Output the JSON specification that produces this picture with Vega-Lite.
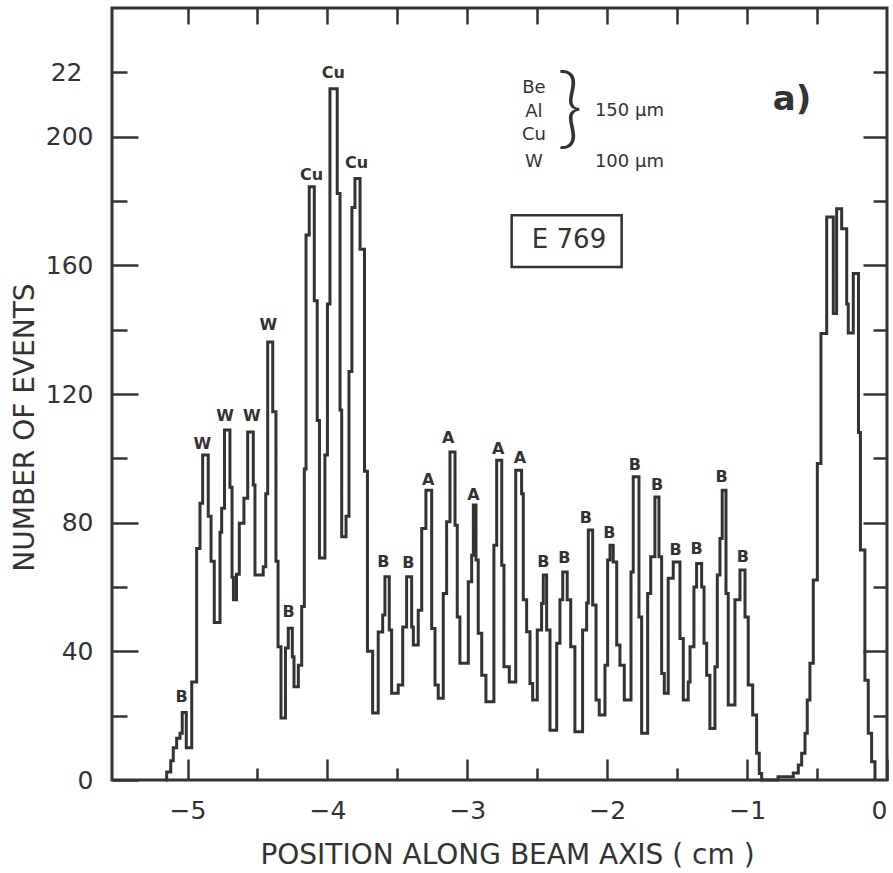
{
  "$schema": "https://vega.github.io/schema/vega-lite/v6.json",
  "width": 775,
  "height": 772,
  "autosize": "none",
  "padding": {"left": 112, "top": 8, "right": 6, "bottom": 93},
  "background": "white",
  "config": {
    "view": {"stroke": "#333", "strokeWidth": 3},
    "axis": {"domain": false, "grid": false, "tickColor": "#333", "tickWidth": 2.5, "labelFont": "DejaVu Sans", "labelFontSize": 25, "labelColor": "#333", "titleFont": "DejaVu Sans", "titleFontSize": 28, "titleFontWeight": "normal", "titleColor": "#333"},
    "text": {"font": "DejaVu Sans", "color": "#333"}
  },
  "datasets": {
    "hist": [
      {"x": -5.160, "y": 0}, {"x": -5.149, "y": 2.5}, {"x": -5.120, "y": 6}, {"x": -5.102, "y": 10}, {"x": -5.078, "y": 13}, {"x": -5.054, "y": 14.5}, {"x": -5.038, "y": 21}, {"x": -5.009, "y": 10}, {"x": -4.970, "y": 30.5}, {"x": -4.935, "y": 72}, {"x": -4.911, "y": 86}, {"x": -4.892, "y": 101}, {"x": -4.852, "y": 82}, {"x": -4.832, "y": 68}, {"x": -4.809, "y": 49}, {"x": -4.768, "y": 77}, {"x": -4.756, "y": 84.5}, {"x": -4.736, "y": 108.8}, {"x": -4.697, "y": 91}, {"x": -4.682, "y": 63}, {"x": -4.672, "y": 56}, {"x": -4.650, "y": 64}, {"x": -4.630, "y": 79.8}, {"x": -4.597, "y": 87.6}, {"x": -4.570, "y": 108.2}, {"x": -4.530, "y": 91.7}, {"x": -4.518, "y": 63.7}, {"x": -4.459, "y": 66.3}, {"x": -4.441, "y": 89}, {"x": -4.427, "y": 136.2}, {"x": -4.391, "y": 114.5}, {"x": -4.368, "y": 68}, {"x": -4.353, "y": 41.4}, {"x": -4.332, "y": 19.3}, {"x": -4.300, "y": 41}, {"x": -4.280, "y": 47.2}, {"x": -4.251, "y": 38.3}, {"x": -4.239, "y": 29}, {"x": -4.208, "y": 35.7}, {"x": -4.184, "y": 53.9}, {"x": -4.165, "y": 96.7}, {"x": -4.153, "y": 169.4}, {"x": -4.130, "y": 184.4}, {"x": -4.094, "y": 149}, {"x": -4.073, "y": 111.8}, {"x": -4.057, "y": 69}, {"x": -4.018, "y": 101}, {"x": -4.000, "y": 148}, {"x": -3.982, "y": 214.9}, {"x": -3.930, "y": 182.3}, {"x": -3.910, "y": 115}, {"x": -3.898, "y": 75.6}, {"x": -3.867, "y": 82}, {"x": -3.846, "y": 127}, {"x": -3.825, "y": 178}, {"x": -3.803, "y": 187}, {"x": -3.767, "y": 165}, {"x": -3.735, "y": 96}, {"x": -3.714, "y": 40}, {"x": -3.677, "y": 20.8}, {"x": -3.637, "y": 46}, {"x": -3.605, "y": 51.3}, {"x": -3.589, "y": 63.2}, {"x": -3.558, "y": 46.6}, {"x": -3.541, "y": 27}, {"x": -3.494, "y": 29.5}, {"x": -3.462, "y": 47.6}, {"x": -3.434, "y": 63.2}, {"x": -3.398, "y": 47.6}, {"x": -3.386, "y": 42}, {"x": -3.351, "y": 52.8}, {"x": -3.326, "y": 78.2}, {"x": -3.296, "y": 90.1}, {"x": -3.255, "y": 47.1}, {"x": -3.231, "y": 29.5}, {"x": -3.208, "y": 25.4}, {"x": -3.172, "y": 58}, {"x": -3.148, "y": 80.3}, {"x": -3.124, "y": 102}, {"x": -3.088, "y": 79.2}, {"x": -3.072, "y": 50.7}, {"x": -3.053, "y": 36.3}, {"x": -2.993, "y": 61.6}, {"x": -2.969, "y": 69.9}, {"x": -2.957, "y": 85.5}, {"x": -2.938, "y": 68.4}, {"x": -2.922, "y": 45.6}, {"x": -2.897, "y": 32.6}, {"x": -2.867, "y": 24.3}, {"x": -2.810, "y": 73}, {"x": -2.790, "y": 99.4}, {"x": -2.754, "y": 66.8}, {"x": -2.738, "y": 35.2}, {"x": -2.700, "y": 30.5}, {"x": -2.654, "y": 96.3}, {"x": -2.612, "y": 89}, {"x": -2.600, "y": 56}, {"x": -2.576, "y": 46.1}, {"x": -2.552, "y": 30}, {"x": -2.533, "y": 24.9}, {"x": -2.500, "y": 46.6}, {"x": -2.469, "y": 54.9}, {"x": -2.457, "y": 63.7}, {"x": -2.433, "y": 46.6}, {"x": -2.409, "y": 15.5}, {"x": -2.361, "y": 42.5}, {"x": -2.338, "y": 56}, {"x": -2.318, "y": 64.7}, {"x": -2.286, "y": 56}, {"x": -2.261, "y": 41.4}, {"x": -2.231, "y": 15}, {"x": -2.176, "y": 46.6}, {"x": -2.147, "y": 55}, {"x": -2.135, "y": 77.7}, {"x": -2.104, "y": 54.4}, {"x": -2.080, "y": 24.9}, {"x": -2.057, "y": 20.2}, {"x": -2.016, "y": 35.7}, {"x": -1.997, "y": 68.4}, {"x": -1.980, "y": 73}, {"x": -1.957, "y": 67.8}, {"x": -1.932, "y": 42}, {"x": -1.909, "y": 35.7}, {"x": -1.878, "y": 24.9}, {"x": -1.830, "y": 64.7}, {"x": -1.814, "y": 94.3}, {"x": -1.773, "y": 50.7}, {"x": -1.754, "y": 14.5}, {"x": -1.711, "y": 58}, {"x": -1.689, "y": 69.4}, {"x": -1.659, "y": 88}, {"x": -1.630, "y": 69.4}, {"x": -1.611, "y": 33.1}, {"x": -1.592, "y": 27}, {"x": -1.564, "y": 62.7}, {"x": -1.528, "y": 67.8}, {"x": -1.480, "y": 44}, {"x": -1.456, "y": 24.9}, {"x": -1.421, "y": 30.5}, {"x": -1.408, "y": 41.4}, {"x": -1.380, "y": 60}, {"x": -1.361, "y": 67.3}, {"x": -1.325, "y": 60}, {"x": -1.308, "y": 42.5}, {"x": -1.289, "y": 32.6}, {"x": -1.266, "y": 16}, {"x": -1.230, "y": 35.2}, {"x": -1.213, "y": 63.7}, {"x": -1.194, "y": 75.1}, {"x": -1.178, "y": 90.1}, {"x": -1.151, "y": 58}, {"x": -1.135, "y": 23.3}, {"x": -1.087, "y": 56}, {"x": -1.051, "y": 65.3}, {"x": -1.015, "y": 50.7}, {"x": -0.992, "y": 29.5}, {"x": -0.960, "y": 20.2}, {"x": -0.932, "y": 8.3}, {"x": -0.913, "y": 2}, {"x": -0.896, "y": 0}, {"x": -0.779, "y": 1}, {"x": -0.670, "y": 2.2}, {"x": -0.634, "y": 4.7}, {"x": -0.610, "y": 8.3}, {"x": -0.586, "y": 14.5}, {"x": -0.570, "y": 24.9}, {"x": -0.551, "y": 36.3}, {"x": -0.527, "y": 62.2}, {"x": -0.498, "y": 98.4}, {"x": -0.472, "y": 138.8}, {"x": -0.431, "y": 175}, {"x": -0.384, "y": 145}, {"x": -0.360, "y": 177.6}, {"x": -0.324, "y": 171.4}, {"x": -0.288, "y": 148}, {"x": -0.277, "y": 139}, {"x": -0.241, "y": 157.5}, {"x": -0.204, "y": 108}, {"x": -0.190, "y": 71.5}, {"x": -0.158, "y": 31}, {"x": -0.134, "y": 14.5}, {"x": -0.110, "y": 5.7}, {"x": -0.086, "y": 0}
    ],
    "peaks": [
      {"x": -5.042, "y": 25.9, "t": "B"}, {"x": -4.895, "y": 104.6, "t": "W"}, {"x": -4.732, "y": 113.1, "t": "W"}, {"x": -4.541, "y": 113.1, "t": "W"}, {"x": -4.423, "y": 141.4, "t": "W"}, {"x": -4.277, "y": 52.3, "t": "B"}, {"x": -4.113, "y": 188.0, "t": "Cu"}, {"x": -3.958, "y": 219.8, "t": "Cu"}, {"x": -3.791, "y": 191.8, "t": "Cu"}, {"x": -3.601, "y": 67.8, "t": "B"}, {"x": -3.422, "y": 67.5, "t": "B"}, {"x": -3.279, "y": 93.2, "t": "A"}, {"x": -3.136, "y": 106.2, "t": "A"}, {"x": -2.957, "y": 88.6, "t": "A"}, {"x": -2.779, "y": 102.8, "t": "A"}, {"x": -2.624, "y": 100.0, "t": "A"}, {"x": -2.457, "y": 67.8, "t": "B"}, {"x": -2.307, "y": 68.9, "t": "B"}, {"x": -2.152, "y": 81.3, "t": "B"}, {"x": -1.984, "y": 76.7, "t": "B"}, {"x": -1.802, "y": 97.9, "t": "B"}, {"x": -1.644, "y": 91.7, "t": "B"}, {"x": -1.512, "y": 71.6, "t": "B"}, {"x": -1.361, "y": 71.7, "t": "B"}, {"x": -1.183, "y": 94.2, "t": "B"}, {"x": -1.030, "y": 69.4, "t": "B"}
    ],
    "materials": [
      {"x": -2.524, "y": 215.2, "t": "Be"}, {"x": -2.524, "y": 207.7, "t": "Al"}, {"x": -2.524, "y": 200.4, "t": "Cu"}, {"x": -2.524, "y": 192.1, "t": "W"}
    ],
    "thickness": [
      {"x": -2.088, "y": 207.9, "t": "150 µm"}, {"x": -2.088, "y": 192.2, "t": "100 µm"}
    ],
    "brace": [{"x": -2.266, "y": 207.9, "t": "}"}],
    "experiment": [{"x": -2.273, "y": 167.8, "x1": -2.683, "x2": -1.897, "y1": 159.5, "y2": 175.6, "t": "E 769"}],
    "panel": [{"x": -0.679, "y": 211.3, "t": "a)"}]
  },
  "resolve": {"axis": {"x": "independent", "y": "independent"}},
  "layer": [
    {
      "data": {"name": "hist"},
      "mark": {"type": "line", "interpolate": "step-after", "stroke": "#333", "strokeWidth": 3},
      "encoding": {
        "x": {"field": "x", "type": "quantitative", "scale": {"domain": [-5.54, 0], "nice": false, "zero": false},
          "axis": {"orient": "bottom", "values": [-5, -4.5, -4, -3.5, -3, -2.5, -2, -1.5, -1, -0.5, 0], "format": ".0f",
            "tickSize": {"condition": {"test": "datum.value % 1 === 0", "value": -21}, "value": -12},
            "labelExpr": "datum.value % 1 === 0 ? datum.label : ''", "labelPadding": 39, "labelFlush": true,
            "title": "POSITION ALONG BEAM AXIS ( cm )", "titleX": 395, "titleY": 83, "titleBaseline": "alphabetic", "titleAlign": "center", "titleAnchor": null}},
        "y": {"field": "y", "type": "quantitative", "scale": {"domain": [0, 240], "nice": false, "zero": true},
          "axis": {"orient": "left", "values": [0, 20, 40, 60, 80, 100, 120, 140, 160, 180, 200, 220],
            "tickSize": {"condition": {"test": "datum.value % 40 === 0", "value": -26}, "value": -15},
            "labelExpr": "datum.value === 220 ? '22' : (datum.value % 40 === 0 ? datum.label : '')",
            "labelPadding": 45, "labelFlush": false,
            "title": "NUMBER OF EVENTS", "titleAngle": -90, "titleX": -79, "titleY": 419, "titleBaseline": "alphabetic", "titleAlign": "center", "titleAnchor": null}}
      }
    },
    {
      "data": {"name": "peaks"},
      "mark": {"type": "text", "fontSize": 16, "fontWeight": "bold", "baseline": "middle", "align": "center"},
      "encoding": {
        "x": {"field": "x", "type": "quantitative", "scale": {"domain": [-5.54, 0], "nice": false, "zero": false},
          "axis": {"orient": "top", "values": [-5, -4.5, -4, -3.5, -3, -2.5, -2, -1.5, -1, -0.5], "tickSize": -16, "labels": false, "title": null}},
        "y": {"field": "y", "type": "quantitative", "scale": {"domain": [0, 240], "nice": false},
          "axis": {"orient": "right", "values": [20, 40, 60, 80, 100, 120, 140, 160, 180, 200, 220],
            "tickSize": {"condition": {"test": "datum.value % 40 === 0", "value": -24}, "value": -14}, "labels": false, "title": null}},
        "text": {"field": "t"}
      }
    },
    {
      "data": {"name": "materials"},
      "mark": {"type": "text", "fontSize": 18, "baseline": "middle", "align": "center"},
      "encoding": {
        "x": {"field": "x", "type": "quantitative", "axis": null},
        "y": {"field": "y", "type": "quantitative", "axis": null},
        "text": {"field": "t"}
      }
    },
    {
      "data": {"name": "thickness"},
      "mark": {"type": "text", "fontSize": 18, "baseline": "middle", "align": "left"},
      "encoding": {
        "x": {"field": "x", "type": "quantitative", "axis": null},
        "y": {"field": "y", "type": "quantitative", "axis": null},
        "text": {"field": "t"}
      }
    },
    {
      "data": {"name": "brace"},
      "mark": {"type": "text", "fontSize": 88, "font": "Lato", "fontWeight": 300, "baseline": "middle", "align": "center"},
      "encoding": {
        "x": {"field": "x", "type": "quantitative", "axis": null},
        "y": {"field": "y", "type": "quantitative", "axis": null},
        "text": {"field": "t"}
      }
    },
    {
      "data": {"name": "experiment"},
      "mark": {"type": "rect", "fill": null, "fillOpacity": 0, "stroke": "#333", "strokeWidth": 2.5},
      "encoding": {
        "x": {"field": "x1", "type": "quantitative", "axis": null},
        "x2": {"field": "x2"},
        "y": {"field": "y1", "type": "quantitative", "axis": null},
        "y2": {"field": "y2"}
      }
    },
    {
      "data": {"name": "experiment"},
      "mark": {"type": "text", "fontSize": 26, "baseline": "middle", "align": "center"},
      "encoding": {
        "x": {"field": "x", "type": "quantitative", "axis": null},
        "y": {"field": "y", "type": "quantitative", "axis": null},
        "text": {"field": "t"}
      }
    },
    {
      "data": {"name": "panel"},
      "mark": {"type": "text", "fontSize": 34, "fontWeight": "bold", "baseline": "middle", "align": "center"},
      "encoding": {
        "x": {"field": "x", "type": "quantitative", "axis": null},
        "y": {"field": "y", "type": "quantitative", "axis": null},
        "text": {"field": "t"}
      }
    }
  ]
}
